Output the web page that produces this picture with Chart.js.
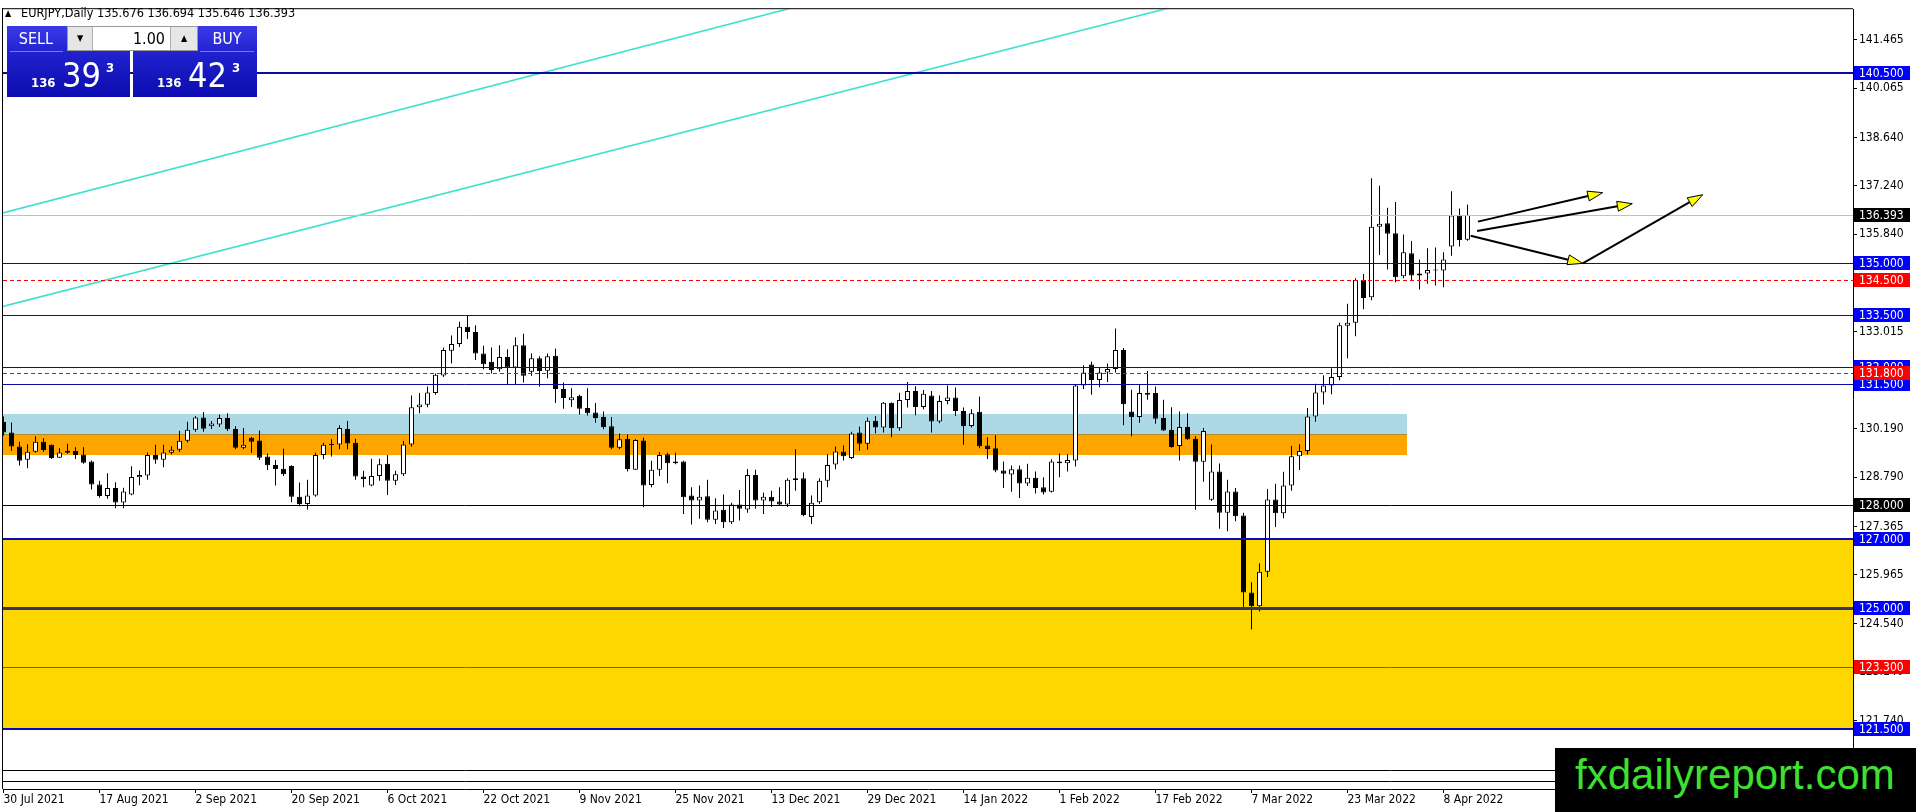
<!DOCTYPE html>
<html><head><meta charset="utf-8">
<script src="https://cdn.jsdelivr.net/npm/chart.js@4.4.1/dist/chart.umd.min.js"></script>
<style>
html,body{margin:0;padding:0;background:#fff;overflow:hidden;}
#wrap{position:relative;width:1916px;height:812px;}
#c{position:absolute;left:0;top:0;width:1916px;height:812px;}
.ov{position:absolute;font-family:'DejaVu Sans Condensed','DejaVu Sans',sans-serif;white-space:nowrap;}
.blue{background:linear-gradient(to bottom,#3a3ae8 0%,#2020cc 40%,#0c0cb0 100%);}
.lbl{color:#fff;font-size:16px;line-height:25px;text-align:center;}
.sep{height:1px;background:#7878f0;}
.sm{color:#fff;font-weight:bold;font-size:13px;line-height:13px;}
.big{color:#fff;font-size:34px;line-height:34px;}
#lot{background:#fff;border:1px solid #9a9a9a;box-sizing:border-box;}
.arr{position:absolute;top:0;height:23px;background:#e6e6e6;font-size:9px;line-height:23px;text-align:center;color:#000;}
#wm{background:#000;}
#wmt{color:#3fe02f;font-family:'Liberation Sans',Arial,sans-serif;font-size:42px;line-height:42px;}
</style></head><body>
<div id="wrap">
<canvas id="c" width="1916" height="812"></canvas>
<div class="ov" style="left:5px;top:7px;font-size:9px;line-height:12px;color:#000;">&#9650;</div>
<div id="hdrText" class="ov" style="left:21px;top:5px;font-size:12.6px;line-height:15px;color:#000;"></div>
<div class="ov blue" style="left:7px;top:26px;width:123px;height:71px;"></div>
<div class="ov blue" style="left:133px;top:26px;width:124px;height:71px;"></div>
<div class="ov lbl" style="left:7px;top:26px;width:58px;height:25px;">SELL</div>
<div class="ov lbl" style="left:197px;top:26px;width:60px;height:25px;">BUY</div>
<div class="ov sep" style="left:10px;top:51px;width:53px;"></div>
<div class="ov sep" style="left:200px;top:51px;width:54px;"></div>
<div id="lot" class="ov" style="left:67px;top:26px;width:131px;height:25px;">
  <div class="arr" style="left:0;width:24px;border-right:1px solid #b0b0b0;">&#9660;</div>
  <div id="lotVal" style="position:absolute;right:32px;top:0;font-size:16px;line-height:23px;color:#000;"></div>
  <div class="arr" style="right:0;width:26px;border-left:1px solid #b0b0b0;">&#9650;</div>
</div>
<div id="bidA" class="ov sm" style="left:31px;top:76px;"></div>
<div id="bidB" class="ov big" style="left:62px;top:58px;"></div>
<div id="bidC" class="ov sm" style="left:106px;top:61px;"></div>
<div id="askA" class="ov sm" style="left:157px;top:76px;"></div>
<div id="askB" class="ov big" style="left:188px;top:58px;"></div>
<div id="askC" class="ov sm" style="left:232px;top:61px;"></div>
<div id="wm" class="ov" style="left:1555px;top:748px;width:361px;height:64px;">
  <div id="wmt" style="position:absolute;left:20px;top:6px;">fxdailyreport.com</div>
</div>
</div>
<script>
// ---------- data ----------
const symbolName = 'EURJPY';
const timeframe = 'Daily';
const lotSize = '1.00';
const bidPrice = 136.393;
const askPrice = 136.423;

const tickLabels = ['30 Jul 2021','17 Aug 2021','2 Sep 2021','20 Sep 2021','6 Oct 2021','22 Oct 2021','9 Nov 2021','25 Nov 2021','13 Dec 2021','29 Dec 2021','14 Jan 2022','1 Feb 2022','17 Feb 2022','7 Mar 2022','23 Mar 2022','8 Apr 2022'];
const tickEvery = 12;

const opens = [
130.40,130.09,129.68,129.30,129.53,129.82,129.73,129.36,129.50,129.56,129.45,129.25,
128.58,128.25,128.48,128.06,128.29,128.79,128.84,129.44,129.30,129.50,129.59,129.85,
130.17,130.52,130.27,130.32,130.51,130.19,129.65,129.94,129.86,129.39,129.15,129.04,
129.12,128.23,128.02,128.26,129.44,129.72,129.74,130.19,129.79,128.81,128.55,128.83,
129.18,128.69,128.88,129.74,130.82,130.89,131.23,131.74,132.46,132.65,133.15,133.00,
132.38,132.14,131.92,132.28,131.97,132.62,131.85,132.24,131.88,132.31,131.35,131.02,
131.15,130.80,130.67,130.54,130.27,129.65,129.91,129.01,129.86,128.57,129.01,129.46,
129.25,129.25,128.26,128.12,128.24,127.56,127.85,127.49,128.00,127.86,128.86,128.12,
128.23,128.09,128.00,128.76,128.76,127.64,128.07,128.69,129.16,129.54,129.35,130.09,
129.76,130.43,130.23,130.95,130.21,131.03,131.29,130.83,131.16,130.41,131.00,131.10,
130.71,130.28,130.69,129.71,129.63,128.99,128.87,129.02,128.61,128.78,128.50,128.37,
129.25,129.20,129.28,131.45,132.06,131.61,131.83,131.93,132.48,130.70,130.54,131.23,
131.23,130.51,130.16,129.70,130.25,129.91,129.24,128.14,128.96,127.76,128.38,127.68,
125.45,125.05,126.05,128.15,127.75,128.55,129.40,129.55,130.55,131.25,131.45,131.70,
133.18,133.27,134.51,134.01,136.05,136.15,135.86,134.62,135.28,134.64,134.70,134.78,
134.78,135.48,136.38,135.676];
const highs = [
130.55,130.38,129.82,129.75,129.98,129.92,129.75,129.63,129.76,129.66,129.66,129.28,
128.69,128.91,128.65,128.49,129.11,128.99,129.51,129.73,129.73,129.69,130.14,130.40,
130.57,130.68,130.42,130.61,130.65,130.27,130.22,129.96,130.15,129.48,129.29,129.62,
129.14,128.64,128.72,129.50,129.79,129.89,130.30,130.42,129.91,128.98,129.33,129.33,
129.44,128.98,129.84,131.16,131.23,131.42,131.80,132.55,132.90,133.30,133.48,133.20,
132.60,132.55,132.62,132.50,132.85,132.95,132.38,132.30,132.38,132.52,131.54,131.37,
131.18,131.37,130.94,130.70,130.54,130.06,130.03,129.89,129.94,129.27,129.52,129.50,
129.50,129.27,128.50,128.55,128.72,128.18,128.29,128.05,128.42,129.03,129.01,128.35,
128.40,128.50,128.76,129.60,128.93,128.26,128.76,129.46,129.68,129.71,130.11,130.26,
130.52,130.57,130.97,130.96,131.24,131.55,131.43,131.32,131.29,131.16,131.45,131.39,
130.81,130.76,131.13,129.95,130.01,129.25,129.13,129.13,129.18,128.96,128.79,129.31,
129.48,129.46,131.47,132.04,132.14,131.98,132.09,133.10,132.54,131.33,131.47,131.87,
131.42,131.04,130.82,130.70,130.65,129.98,130.22,129.74,129.19,128.72,128.48,127.76,
125.75,126.30,128.45,128.60,128.95,129.70,129.75,130.80,131.50,131.75,131.95,133.27,
133.82,134.56,134.68,137.46,137.24,136.60,136.77,135.83,135.64,135.10,135.43,135.45,
135.31,137.08,136.58,136.694];
const lows = [
130.00,129.56,129.13,129.05,129.50,129.53,129.32,129.35,129.47,129.32,129.18,128.44,
128.20,128.17,127.89,127.89,128.27,128.56,128.72,129.18,129.08,129.45,129.53,129.80,
130.11,130.11,130.19,130.25,130.13,129.60,129.60,129.50,129.29,129.00,128.55,128.83,
128.07,127.95,127.86,128.23,129.31,129.39,129.60,129.60,128.72,128.50,128.53,128.69,
128.28,128.57,128.83,129.68,130.65,130.82,131.18,131.70,132.09,132.57,132.80,132.19,
131.92,131.80,131.85,131.47,131.47,131.54,131.73,131.42,131.66,130.94,130.78,130.83,
130.61,130.58,130.37,130.18,129.60,129.60,128.96,129.00,127.92,128.50,128.83,128.62,
129.17,127.73,127.42,127.59,127.49,127.44,127.32,127.44,127.54,127.76,127.88,127.73,
127.94,127.97,127.93,128.40,127.66,127.44,128.02,128.50,129.02,129.28,129.32,129.56,
129.59,130.06,130.09,129.95,130.14,130.81,130.59,130.76,130.09,130.36,130.91,130.57,
129.73,130.23,129.63,129.32,128.94,128.48,128.37,128.19,128.54,128.32,128.29,128.35,
128.79,128.96,129.10,131.35,131.18,131.40,131.55,131.83,130.30,129.98,130.37,131.04,
130.34,130.13,129.65,129.28,129.87,127.85,128.66,128.10,127.30,127.23,127.52,125.00,
124.38,124.90,125.90,127.35,127.60,128.40,129.00,129.45,130.40,130.90,131.20,131.60,
132.24,132.88,133.66,133.92,135.23,134.81,134.44,134.56,134.49,134.23,134.40,134.35,
134.30,135.21,135.48,135.646];
const closes = [
130.09,129.68,129.27,129.53,129.82,129.58,129.35,129.51,129.56,129.44,129.21,128.58,
128.25,128.48,128.06,128.38,128.80,128.86,129.44,129.30,129.51,129.59,129.85,130.17,
130.52,130.20,130.35,130.51,130.18,129.65,129.73,129.82,129.36,129.14,129.03,128.88,
128.23,128.02,128.26,129.44,129.73,129.76,130.22,129.77,128.81,128.74,128.83,129.17,
128.69,128.88,129.74,130.82,130.90,131.25,131.76,132.48,132.65,133.15,133.00,132.38,
132.07,131.90,132.28,131.97,132.62,131.73,132.24,131.87,132.30,131.35,131.09,131.11,
130.78,130.65,130.51,130.25,129.65,129.89,129.03,129.87,128.55,129.01,129.44,129.20,
129.20,128.21,128.12,128.23,127.56,127.83,127.49,128.00,127.88,128.86,128.12,128.23,
128.09,128.00,128.72,128.71,127.70,128.05,128.69,129.15,129.54,129.40,130.06,129.76,
130.43,130.23,130.95,130.21,131.03,131.29,130.83,131.21,130.41,131.00,131.10,130.71,
130.28,130.65,129.69,129.61,128.99,128.89,129.02,128.61,128.78,128.48,128.35,129.25,
129.20,129.29,131.45,131.83,131.61,131.83,131.93,132.48,130.91,130.54,131.23,131.18,
130.49,130.15,129.67,130.25,129.89,129.24,130.13,128.96,127.76,128.38,127.66,125.45,
125.05,126.05,128.15,127.75,128.55,129.40,129.55,130.55,131.25,131.45,131.70,133.20,
133.27,134.51,133.99,136.05,136.14,135.85,134.59,135.31,134.64,134.70,134.80,134.81,
135.10,136.38,135.67,136.393];

const yTicks = [141.465,140.065,138.640,137.240,135.840,134.415,133.015,131.590,130.190,128.790,127.365,125.965,124.540,123.140,121.740];

// horizontal levels
const levelValues = [140.5, 136.393, 135.0, 134.5, 133.5, 132.0, 131.5, 131.8, 128.0, 127.0, 125.0, 123.3, 121.5, 120.3, 120.0];
// zones (price top / bottom, end bar index; null = to right edge)
const zoneTops    = [127.0, 130.63, 130.05];
const zoneBottoms = [121.5, 130.05, 129.43];
const zoneEnds    = [null, 175.4, 175.4];
// trend lines: [barIndex, price] pairs
const trendLine1 = [[-0.44, 136.43], [99.3, 142.44]];
const trendLine2 = [[-0.44, 133.72], [146.5, 142.44]];
// arrows: [barIndex, price] from -> to
const arrowPaths = [
  [[184.3, 136.20], [199.9, 137.04]],
  [[184.2, 135.93], [203.6, 136.72]],
  [[183.4, 135.79], [197.4, 134.99]],
  [[197.4, 134.99], [212.4, 136.98]]
];

// ---------- styles ----------
const FONT = "'DejaVu Sans Condensed','DejaVu Sans',sans-serif";
const BLUE_LINE = '#0a0aa0', BLUE_BG = '#0000ff', RED = '#ff0000';
const levelStyles = [
  {c:BLUE_LINE, w:2, bg:BLUE_BG},
  {c:'#c0c0c0', w:1, bg:'#000000'},
  {c:BLUE_LINE, w:1, bg:BLUE_BG},
  {c:RED, w:1, dash:[4,3], bg:RED},
  {c:BLUE_LINE, w:1, bg:BLUE_BG},
  {c:BLUE_LINE, w:1, bg:BLUE_BG},
  {c:BLUE_LINE, w:1, bg:BLUE_BG},
  {c:RED, w:1, dash:[4,3], bg:RED},
  {c:'#000000', w:1, bg:'#000000'},
  {c:'#0a0ab4', w:2, bg:BLUE_BG},
  {c:'#34346c', w:3, bg:BLUE_BG},
  {c:'#ff2000', w:1, bg:RED},
  {c:'#0a0ab4', w:2, bg:BLUE_BG},
  {c:'#000000', w:1, bg:null},
  {c:'#000000', w:1, bg:null}
];
const zoneColors = ['#ffd700', '#add8e6', '#ffa500'];

// ---------- overlay text ----------
const n = closes.length;
document.getElementById('hdrText').textContent =
  symbolName + ',' + timeframe + '  ' + [opens[n-1], highs[n-1], lows[n-1], closes[n-1]].map(v => v.toFixed(3)).join(' ');
document.getElementById('lotVal').textContent = lotSize;
function splitPrice(p){ const s = p.toFixed(3); return [s.slice(0,3), s.slice(4,6), s.slice(6)]; }
const bp = splitPrice(bidPrice), ap = splitPrice(askPrice);
document.getElementById('bidA').textContent = bp[0];
document.getElementById('bidB').textContent = bp[1];
document.getElementById('bidC').textContent = bp[2];
document.getElementById('askA').textContent = ap[0];
document.getElementById('askB').textContent = ap[1];
document.getElementById('askC').textContent = ap[2];

// ---------- chart ----------
const bodyData = opens.map((o, i) => ({x: i, y: [o, closes[i]]}));
const wickData = highs.map((h, i) => ({x: i, y: [lows[i], h]}));

function lineThrough(ctx, x, y, p1, p2, ca){
  const x1 = x.getPixelForValue(p1[0]), y1 = y.getPixelForValue(p1[1]);
  const x2 = x.getPixelForValue(p2[0]), y2 = y.getPixelForValue(p2[1]);
  const m = (y2 - y1) / (x2 - x1);
  const xa = ca.left - 5, xb = ca.right + 5;
  ctx.beginPath();
  ctx.moveTo(xa, y1 + m * (xa - x1));
  ctx.lineTo(xb, y1 + m * (xb - x1));
  ctx.stroke();
}

const overlay = {
  id: 'overlay',
  beforeDatasetsDraw(chart){
    const {ctx, chartArea: ca, scales: {x, y}} = chart;
    ctx.save();
    ctx.beginPath(); ctx.rect(ca.left, ca.top, ca.right - ca.left, ca.bottom - ca.top); ctx.clip();
    zoneTops.forEach((t, i) => {
      const yt = Math.round(y.getPixelForValue(t)), yb = Math.round(y.getPixelForValue(zoneBottoms[i]));
      const xr = zoneEnds[i] === null ? ca.right : Math.round(x.getPixelForValue(zoneEnds[i]));
      ctx.fillStyle = zoneColors[i];
      ctx.fillRect(ca.left, yt, xr - ca.left, yb - yt);
    });
    // boundary line between light blue and orange zones
    const yb2 = Math.round(y.getPixelForValue(zoneTops[2]));
    ctx.fillStyle = '#b38a2e';
    ctx.fillRect(ca.left, yb2, Math.round(x.getPixelForValue(zoneEnds[2])) - ca.left, 1);
    ctx.strokeStyle = '#40e0d0'; ctx.lineWidth = 1.6;
    lineThrough(ctx, x, y, trendLine1[0], trendLine1[1], ca);
    lineThrough(ctx, x, y, trendLine2[0], trendLine2[1], ca);
    ctx.restore();
  },
  afterDatasetsDraw(chart){
    const {ctx, chartArea: ca, scales: {x, y}} = chart;
    ctx.save();
    ctx.beginPath(); ctx.rect(ca.left, ca.top, ca.right - ca.left, ca.bottom - ca.top); ctx.clip();
    levelValues.forEach((v, i) => {
      const st = levelStyles[i];
      let py = y.getPixelForValue(v);
      py = st.w % 2 === 1 ? Math.round(py) + 0.5 : Math.round(py);
      ctx.strokeStyle = st.c; ctx.lineWidth = st.w;
      ctx.setLineDash(st.dash || []);
      ctx.beginPath(); ctx.moveTo(ca.left, py); ctx.lineTo(ca.right, py); ctx.stroke();
    });
    ctx.setLineDash([]);
    // arrows
    arrowPaths.forEach(p => {
      const x1 = x.getPixelForValue(p[0][0]), y1 = y.getPixelForValue(p[0][1]);
      const x2 = x.getPixelForValue(p[1][0]), y2 = y.getPixelForValue(p[1][1]);
      const dx = x2 - x1, dy = y2 - y1, L = Math.hypot(dx, dy);
      const ux = dx / L, uy = dy / L, nx = -uy, ny = ux;
      const len = 15, hw = 5;
      const bx = x2 - ux * len, by = y2 - uy * len;
      ctx.strokeStyle = '#000'; ctx.lineWidth = 2;
      ctx.beginPath(); ctx.moveTo(x1, y1); ctx.lineTo(bx, by); ctx.stroke();
      ctx.beginPath();
      ctx.moveTo(x2, y2); ctx.lineTo(bx + nx * hw, by + ny * hw); ctx.lineTo(bx - nx * hw, by - ny * hw); ctx.closePath();
      ctx.fillStyle = '#ffff00'; ctx.fill();
      ctx.lineWidth = 1; ctx.stroke();
    });
    ctx.restore();
    // frame (top + left)
    ctx.save();
    ctx.fillStyle = '#000';
    ctx.fillRect(ca.left - 1, ca.top - 1, ca.right - ca.left + 1, 1);
    ctx.fillRect(ca.left - 1, ca.top - 1, 1, ca.bottom - ca.top + 1);
    ctx.restore();
  },
  afterDraw(chart){
    const {ctx, chartArea: ca, scales: {y}} = chart;
    ctx.save();
    ctx.font = '12px ' + FONT;
    ctx.textBaseline = 'middle';
    ctx.textAlign = 'left';
    const order = [0,1,2,3,4,5,6,7,8,9,10,11,12];
    order.forEach(i => {
      const st = levelStyles[i];
      if (!st.bg) return;
      const py = Math.round(y.getPixelForValue(levelValues[i]));
      ctx.fillStyle = st.bg;
      ctx.fillRect(ca.right + 1, py - 7, 56, 14);
      ctx.fillStyle = '#fff';
      ctx.fillText(levelValues[i].toFixed(3), ca.right + 6, py + 0.5);
    });
    ctx.restore();
  }
};

Chart.defaults.font.family = FONT;
Chart.defaults.font.size = 12;
Chart.defaults.color = '#000';

new Chart(document.getElementById('c'), {
  type: 'bar',
  data: {
    datasets: [
      {
        label: 'body', data: bodyData, order: 0, grouped: false,
        backgroundColor: c => (closes[c.dataIndex] >= opens[c.dataIndex] ? '#ffffff' : '#000000'),
        borderColor: '#000000', borderWidth: 1, borderSkipped: false,
        barThickness: 5, minBarLength: 1, inflateAmount: 0
      },
      {
        label: 'wick', data: wickData, order: 1, grouped: false,
        backgroundColor: '#000000', borderWidth: 0, barThickness: 1, inflateAmount: 0
      }
    ]
  },
  options: {
    responsive: false, animation: false, devicePixelRatio: 1,
    layout: {padding: {left: 3, top: 3, right: 0, bottom: 0}},
    plugins: {legend: {display: false}, tooltip: {enabled: false}},
    scales: {
      x: {
        type: 'linear', min: -0.0625, max: 231.1875, offset: false,
        afterBuildTicks: s => { s.ticks = tickLabels.map((_, j) => ({value: j * tickEvery})); },
        ticks: {autoSkip: false, maxRotation: 0, minRotation: 0, align: 'start', padding: 0, color: '#000',
          font: {size: 12}, callback: v => tickLabels[Math.round(v / tickEvery)] || ''},
        grid: {display: true, drawOnChartArea: false, drawTicks: true, tickLength: 4, tickColor: '#000', offset: false},
        border: {display: true, color: '#000', width: 1},
        afterFit: s => { s.height = 23; }
      },
      y: {
        type: 'linear', position: 'right', min: 119.757, max: 142.356,
        afterBuildTicks: s => { s.ticks = yTicks.map(v => ({value: v})); },
        ticks: {autoSkip: false, padding: 2, color: '#000', font: {size: 12}, callback: v => Number(v).toFixed(3)},
        grid: {display: true, drawOnChartArea: false, drawTicks: true, tickLength: 4, tickColor: '#000'},
        border: {display: true, color: '#000', width: 1},
        afterFit: s => { s.width = 63; }
      }
    }
  },
  plugins: [overlay]
});
</script>
</body></html>
